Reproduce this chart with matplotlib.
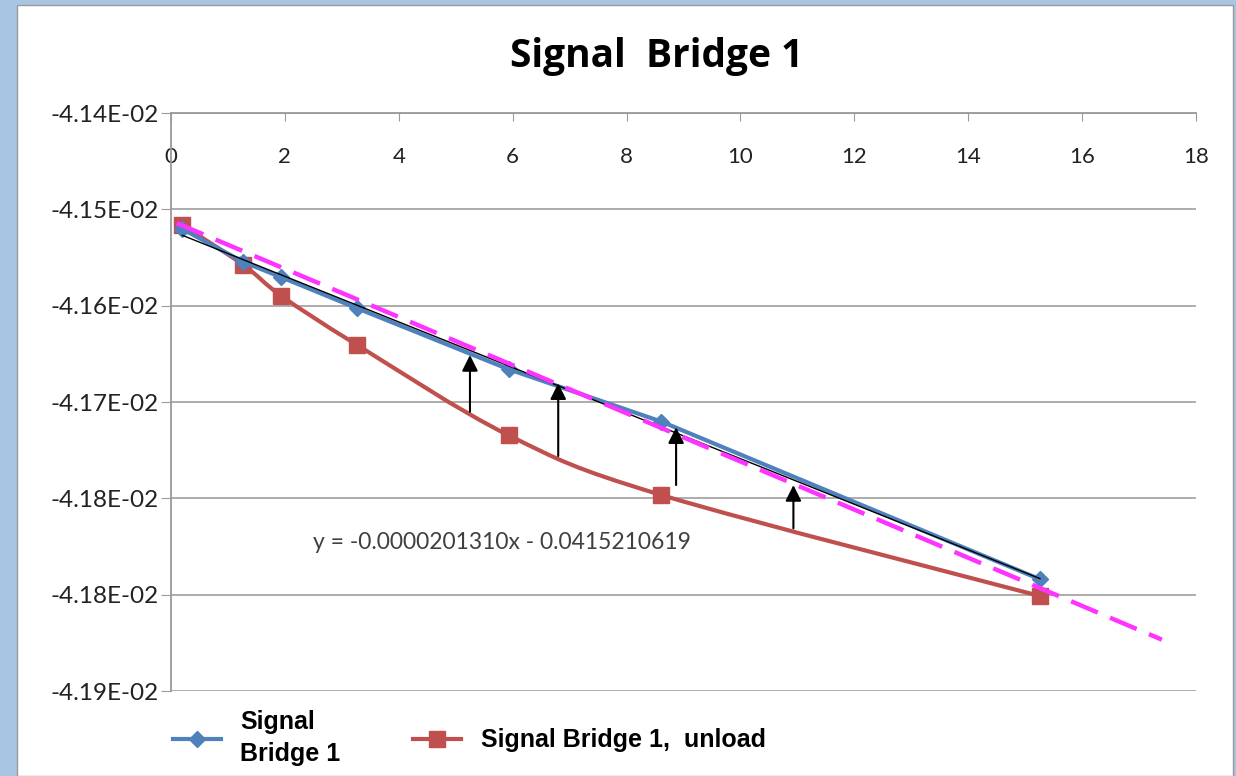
import numpy as np
import matplotlib
matplotlib.use("Agg")
import matplotlib.pyplot as plt
from matplotlib.path import Path
from matplotlib.patches import PathPatch, Rectangle
from matplotlib.lines import Line2D

# data
x_bridge = [0.2, 1.27, 1.94, 3.27, 5.93, 8.61, 15.26]
y_bridge = [-0.041528, -0.0415556, -0.0415684, -0.0415943, -0.0416453, -0.041689, -0.0418209]

x_unload = [0.2, 1.27, 1.94, 3.27, 5.93, 8.61, 15.26]
y_unload = [-0.0415247, -0.041558, -0.041584, -0.041625, -0.0417005, -0.0417504, -0.0418349]

# trend line printed on the chart
trend_slope = -0.0000201310
trend_icpt = -0.0415210619
trend_x = [0.1, 17.4]

# arrows: x, tail (on unload curve), tip (on bridge line)
arrow_x = [5.25, 6.80, 8.87, 10.93]
arrow_tail = [-0.0416808, -0.0417178, -0.0417421, -0.0417783]
arrow_tip = [-0.0416334, -0.041657, -0.0416938, -0.0417421]

x_ticks = [0, 2, 4, 6, 8, 10, 12, 14, 16, 18]
y_top = -0.041431
y_step = 8.055e-5
y_labels = ['-4.14E-02', '-4.15E-02', '-4.16E-02', '-4.17E-02',
            '-4.18E-02', '-4.18E-02', '-4.19E-02']

blue = '#4f81bd'
red = '#c0504d'
magenta = '#ff33ff'


def smooth_path(xs, ys):
    # excel style smoothed line (catmull-rom as cubic bezier)
    pts = np.column_stack([xs, ys])
    n = len(pts)
    verts = [pts[0]]
    codes = [Path.MOVETO]
    for i in range(n - 1):
        p0 = pts[i - 1] if i > 0 else pts[i]
        p1 = pts[i]
        p2 = pts[i + 1]
        p3 = pts[i + 2] if i + 2 < n else pts[i + 1]
        verts += [p1 + (p2 - p0) / 6, p2 - (p3 - p1) / 6, p2]
        codes += [Path.CURVE4] * 3
    return Path(verts, codes)


plt.rcParams['font.family'] = ['Lato', 'DejaVu Sans']

fig = plt.figure(figsize=(12.36, 7.76), dpi=100)
fig.patch.set_facecolor('#a9c5e4')
fig.add_artist(Rectangle((17 / 1236, 0), (1233 - 17) / 1236, 771 / 776,
                         transform=fig.transFigure, facecolor='white',
                         edgecolor='#9a9a9a', lw=1.0, zorder=-5))

ax = fig.add_axes([171 / 1236, 1 - 691 / 776, (1196 - 171) / 1236, (691 - 113) / 776])
ax.set_facecolor('none')

# unload series (smoothed)
ax.add_patch(PathPatch(smooth_path(x_unload, y_unload), facecolor='none',
                       edgecolor=red, lw=3.0, capstyle='round', joinstyle='round', zorder=2))
ax.plot(x_unload, y_unload, linestyle='none', marker='s', markersize=11,
        color=red, zorder=2.1)

# bridge series
ax.plot(x_bridge, y_bridge, color=blue, lw=3.0, marker='D', markersize=8,
        solid_joinstyle='round', zorder=3)

# thin linear fit of bridge series
fit = np.polyfit(x_bridge, y_bridge, 1)
xf = np.array([x_bridge[0], x_bridge[-1]])
ax.plot(xf, np.polyval(fit, xf), color='black', lw=1.0, zorder=4)

# dashed trend line
xt = np.array(trend_x)
ax.plot(xt, trend_slope * xt + trend_icpt, color=magenta, lw=3.2,
        linestyle=(0, (6.5, 3.0)), zorder=5)

for xa, yt, yh in zip(arrow_x, arrow_tail, arrow_tip):
    ax.annotate('', xy=(xa, yh), xytext=(xa, yt),
                arrowprops=dict(arrowstyle='-|>', color='black', lw=1.5,
                                mutation_scale=24, shrinkA=0, shrinkB=0),
                zorder=6)

ax.text(2.5, trend_icpt - 2.69e-4,
        'y = -0.0000201310x - 0.0415210619', fontsize=16.5, color='#404040',
        va='center', ha='left')

y_ticks = [y_top - i * y_step for i in range(len(y_labels))]
ax.set_xlim(0, 18)
ax.set_ylim(y_ticks[-1], y_ticks[0])
ax.set_xticks(x_ticks)
ax.set_xticklabels([str(t) for t in x_ticks])
ax.set_yticks(y_ticks)
ax.set_yticklabels(y_labels)

ax.xaxis.set_ticks_position('top')
ax.tick_params(axis='x', direction='in', length=6, color='#9a9a9a',
               labelsize=16, labelcolor='#222222', pad=-39)
ax.tick_params(axis='y', direction='out', length=7, color='#9a9a9a',
               labelsize=17.5, labelcolor='#222222', pad=2)
ax.grid(axis='y', color='#a6a6a6', lw=1.3)
ax.set_axisbelow(True)
for s in ['right', 'bottom']:
    ax.spines[s].set_visible(False)
for s in ['left', 'top']:
    ax.spines[s].set_color('#9a9a9a')
    ax.spines[s].set_linewidth(1.3)

fig.text(657 / 1236, 1 - 57 / 776, 'Signal  Bridge 1', fontsize=28,
         fontweight='bold', ha='center', va='center', family='Open Sans')

handles = [Line2D([], [], color=blue, lw=3, marker='D', markersize=8),
           Line2D([], [], color=red, lw=3, marker='s', markersize=11)]
leg = fig.legend(handles, ['Signal\nBridge 1', 'Signal Bridge 1,  unload'],
                 loc='center left', bbox_to_anchor=(173 / 1236, 1 - 738 / 776),
                 ncol=2, frameon=False, handlelength=1.9, handletextpad=0.8,
                 columnspacing=2.9, borderpad=0, borderaxespad=0,
                 prop={'family': 'Liberation Sans', 'weight': 'bold', 'size': 18})
leg.get_texts()[0].set_linespacing(1.4)

fig.savefig('out.png', dpi=100, facecolor=fig.get_facecolor())
